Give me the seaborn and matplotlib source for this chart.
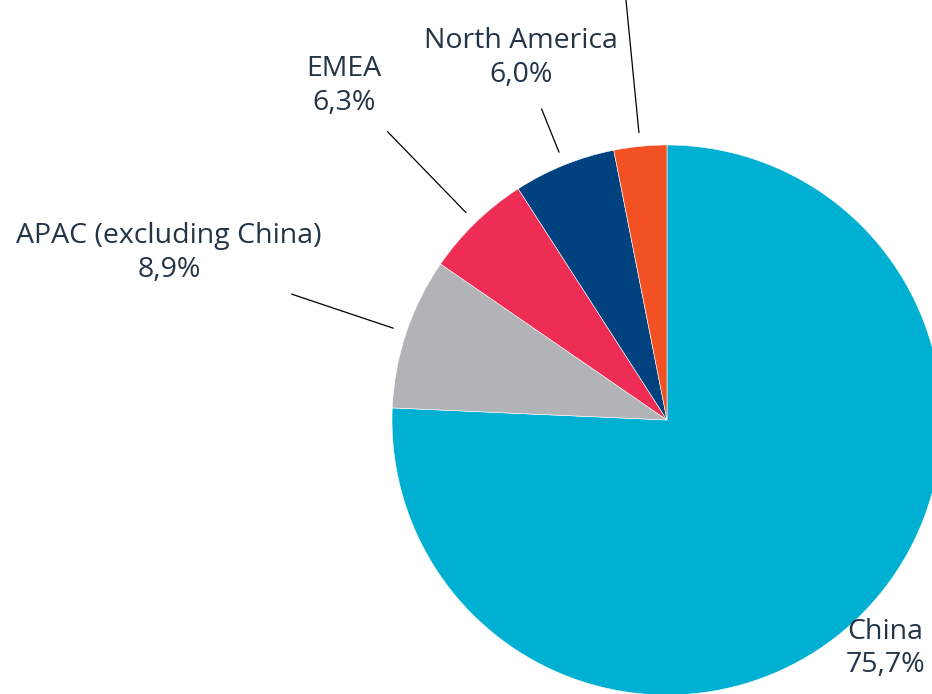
import numpy as np
import seaborn as sns
import matplotlib.pyplot as plt

# Data
regions = ['China', 'APAC (excluding China)', 'EMEA', 'North America', 'Other']
shares = [75.7, 8.9, 6.3, 6.0, 3.1]
share_labels = ['75,7%', '8,9%', '6,3%', '6,0%', '3,1%']
colors = ['#00B0D3', '#B2B3B6', '#EE2D55', '#00427F', '#F15123']

sns.set_theme(style="white")
plt.rcParams['font.family'] = ['Open Sans', 'DejaVu Sans']

fig = plt.figure(figsize=(9.32, 6.94), dpi=100)
ax = fig.add_axes([0, 0, 1, 1])

cx, cy, r = 667, 274, 275
wedges, _ = ax.pie(shares, colors=colors, startangle=90, counterclock=False,
                   center=(cx, cy), radius=r,
                   wedgeprops=dict(edgecolor='white', linewidth=0.4))

# leader lines (start, end radius as fraction of r) and label radius
line_r = [None, (1.05, 1.44), (1.05, 1.46), (1.05, 1.22), (1.05, 1.6)]
text_r = [1.15, 1.91, 1.69, 1.42, None]
txt_color = '#243447'

for w, name, lab, lr, tr in zip(wedges, regions, share_labels, line_r, text_r):
    ang = np.deg2rad((w.theta1 + w.theta2) / 2)
    ca, sa = np.cos(ang), np.sin(ang)
    if lr is not None:
        ax.plot([cx + r * lr[0] * ca, cx + r * lr[1] * ca],
                [cy + r * lr[0] * sa, cy + r * lr[1] * sa],
                color='black', lw=0.9, clip_on=False)
    if tr is not None:
        ax.text(cx + r * tr * ca, cy + r * tr * sa, f'{name}\n{lab}',
                ha='center', va='center', fontsize=20.5, color=txt_color,
                linespacing=1.28)

ax.set_xlim(0, 932)
ax.set_ylim(0, 694)
ax.set_aspect('equal')
ax.axis('off')

fig.savefig('out.png', dpi=100)
